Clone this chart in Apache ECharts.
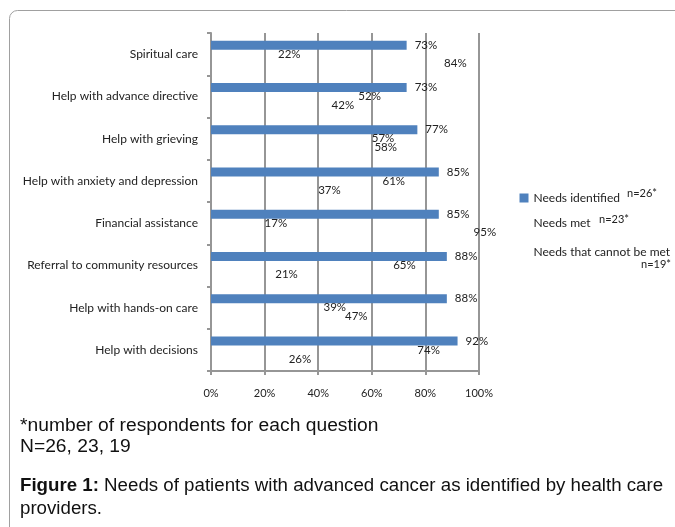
<!DOCTYPE html>
<html>
<head>
<meta charset="utf-8">
<script src="https://cdn.jsdelivr.net/npm/echarts@6/dist/echarts.min.js"></script>
<style>
html,body{margin:0;padding:0;background:#fff;}
#main{width:675px;height:527px;}
</style>
</head>
<body>
<div id="main"></div>
<script>
const categories = ['Spiritual care','Help with advance directive','Help with grieving','Help with anxiety and depression','Financial assistance','Referral to community resources','Help with hands-on care','Help with decisions'];
const needsIdentified = [73,73,77,85,85,88,88,92];
const needsMet = [22,52,57,61,17,65,39,74];
const needsCannotBeMet = [84,42,58,37,95,21,47,26];
const seriesNames = ['Needs identified','Needs met','Needs that cannot be met'];
const respondents = ['n=26*','n=23*','n=19*'];
const xTicks = [0,20,40,60,80,100];

const chartFont = 'Lato';
const gray = '#969696';
const labelColor = '#222';
const blue = '#4f81bd';
const clear = 'rgba(0,0,0,0)';

const chart = echarts.init(document.getElementById('main'), null, {renderer:'canvas'});

function barSeries(name, data, color){
  return {
    name: name,
    type: 'bar',
    data: data,
    barWidth: 9,
    barGap: '0%',
    itemStyle: {color: color},
    label: {
      show: true,
      position: 'right',
      distance: 8,
      formatter: '{c}%',
      color: labelColor,
      fontFamily: chartFont,
      fontSize: 11.5
    },
    emphasis: {disabled: true},
    silent: true,
    animation: false
  };
}

function legendAt(name, color, top){
  return {
    orient: 'vertical',
    left: 519.5,
    top: top,
    padding: 0,
    itemWidth: 9,
    itemHeight: 9,
    icon: 'rect',
    selectedMode: false,
    textStyle: {color: labelColor, fontFamily: chartFont, fontSize: 12, lineHeight: 14},
    data: [{name: name, itemStyle: {color: color}}]
  };
}

const option = {
  animation: false,
  grid: {left: 211, right: 196, top: 33, bottom: 156},
  xAxis: {
    type: 'value',
    min: xTicks[0],
    max: xTicks[xTicks.length-1],
    interval: 20,
    axisLine: {show: true, lineStyle: {color: gray, width: 2}},
    axisTick: {show: true, length: 4, lineStyle: {color: gray, width: 2}},
    splitLine: {show: true, lineStyle: {color: gray, width: 2}},
    axisLabel: {
      formatter: '{value}%',
      margin: 17,
      color: labelColor,
      fontFamily: chartFont,
      fontSize: 11
    }
  },
  yAxis: {
    type: 'category',
    data: categories,
    inverse: true,
    axisLine: {show: true, lineStyle: {color: gray, width: 2}},
    axisTick: {show: true, length: 4, lineStyle: {color: gray, width: 2}},
    splitLine: {show: false},
    axisLabel: {
      margin: 13,
      color: labelColor,
      fontFamily: chartFont,
      fontSize: 12
    }
  },
  legend: [
    legendAt(seriesNames[0], blue, 191),
    legendAt(seriesNames[1], clear, 216),
    legendAt(seriesNames[2], clear, 245)
  ],
  graphic: [
    {type: 'rect', silent: true, shape: {x: 9.5, y: 10.5, width: 720, height: 600, r: 8},
      style: {fill: 'none', stroke: '#a0a0a0', lineWidth: 1}},
    {type: 'text', left: 627, top: 188, silent: true,
      style: {text: respondents[0], font: '11px Lato', fill: labelColor}},
    {type: 'text', left: 599, top: 214, silent: true,
      style: {text: respondents[1], font: '11px Lato', fill: labelColor}},
    {type: 'text', right: 4, top: 259, silent: true,
      style: {text: respondents[2], font: '11px Lato', fill: labelColor}},
    {type: 'text', x: 20, y: 416, scaleX: 1.1, silent: true,
      style: {text: '*number of respondents for each question\nN=26, 23, 19', font: '17.5px "Liberation Sans"', lineHeight: 21, fill: '#111'}},
    {type: 'text', x: 20, y: 475, scaleX: 1.068, silent: true,
      style: {
        text: '{b|Figure 1:} Needs of patients with advanced cancer as identified by health care\nproviders.',
        font: '17.5px "Liberation Sans"', lineHeight: 23, fill: '#111',
        rich: {b: {fontWeight: 'bold', fontFamily: 'Liberation Sans', fontSize: 17.5, lineHeight: 23, fill: '#111'}}
      }}
  ],
  series: [
    barSeries(seriesNames[0], needsIdentified, blue),
    barSeries(seriesNames[1], needsMet, clear),
    barSeries(seriesNames[2], needsCannotBeMet, clear)
  ]
};
chart.setOption(option);
</script>
</body>
</html>
